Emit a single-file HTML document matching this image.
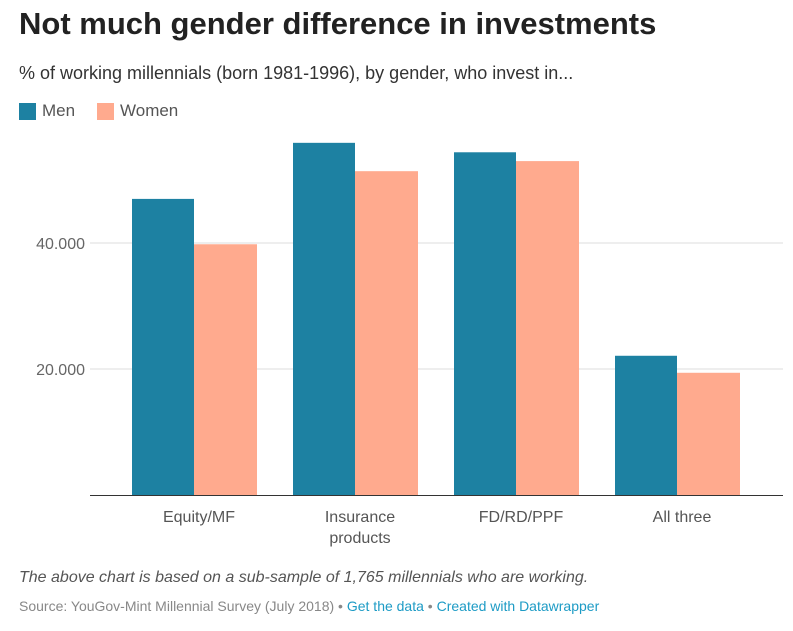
<!DOCTYPE html>
<html><head><meta charset="utf-8"><style>
body{margin:0;width:793px;height:631px;background:#fff;font-family:"Liberation Sans",sans-serif;overflow:hidden}
h1{position:absolute;left:19px;top:6px;margin:0;font-size:31px;font-weight:bold;color:#222}
.sub{position:absolute;left:19px;top:63px;font-size:18px;color:#333}
.leg{position:absolute;top:101px;font-size:17px;color:#555;display:flex;align-items:center}
.sw{width:17px;height:17px;display:inline-block;margin-right:6px}
.note{position:absolute;left:19px;top:569px;font-size:16px;font-style:italic;color:#555}
.src{position:absolute;left:19px;top:598px;font-size:14px;color:#888}
.src a{color:#1d9bc5;text-decoration:none}
</style></head><body>
<h1>Not much gender difference in investments</h1>
<div class="sub">% of working millennials (born 1981-1996), by gender, who invest in...</div>
<div class="leg" style="left:19px"><span class="sw" style="background:#1d81a2"></span>Men</div>
<div class="leg" style="left:97px"><span class="sw" style="background:#ffaa8e"></span>Women</div>
<svg id="chart" width="793" height="631" style="position:absolute;left:0;top:0"></svg>
<div class="note">The above chart is based on a sub-sample of 1,765 millennials who are working.</div>
<div class="src">Source: YouGov-Mint Millennial Survey (July 2018) • <a>Get the data</a> • <a>Created with Datawrapper</a></div>
<script>
const categories=[["Equity/MF"],["Insurance","products"],["FD/RD/PPF"],["All three"]];
const menValues=[47.0,55.9,54.4,22.1];
const womenValues=[39.8,51.4,53.0,19.4];
const tickValues=[20,40];
const tickLabels=["20.000","40.000"];
const svg=document.getElementById('chart');
const NS="http://www.w3.org/2000/svg";
const y0=495,pxPerUnit=6.3,plotL=90,plotR=783,groupStart=132,groupStep=161,barW=63;
const y=v=>y0-v*pxPerUnit;
function mk(t,a){const e=document.createElementNS(NS,t);for(const k in a)e.setAttribute(k,a[k]);svg.appendChild(e);return e;}
tickValues.forEach((v,i)=>{
 const l=mk('line',{x1:plotL,x2:plotR,y1:y(v),y2:y(v),stroke:'#ddd'});
 
 
 const t=mk('text',{x:plotL-5,y:y(v)+6,'text-anchor':'end','font-size':16,fill:'#666','font-family':'Liberation Sans'});
 t.textContent=tickLabels[i];
 
 
});
categories.forEach((c,i)=>{
 const gx=groupStart+i*groupStep;
 const m=mk('rect',{x:gx,y:y(menValues[i]),width:barW-1,height:menValues[i]*pxPerUnit,fill:'#1d81a2'});
 
 
 const w=mk('rect',{x:gx+barW-1,y:y(womenValues[i]),width:barW,height:womenValues[i]*pxPerUnit,fill:'#ffaa8e'});
 
 
 c.forEach((s,j)=>{
  const t=mk('text',{x:gx+barW+4,y:522+j*21,'text-anchor':'middle','font-size':16,fill:'#555','font-family':'Liberation Sans'});
  t.textContent=s;
  
  
 });
});
const ax=mk('line',{x1:plotL,x2:plotR,y1:y0+0.5,y2:y0+0.5,stroke:'#333'});


</script>
</body></html>
